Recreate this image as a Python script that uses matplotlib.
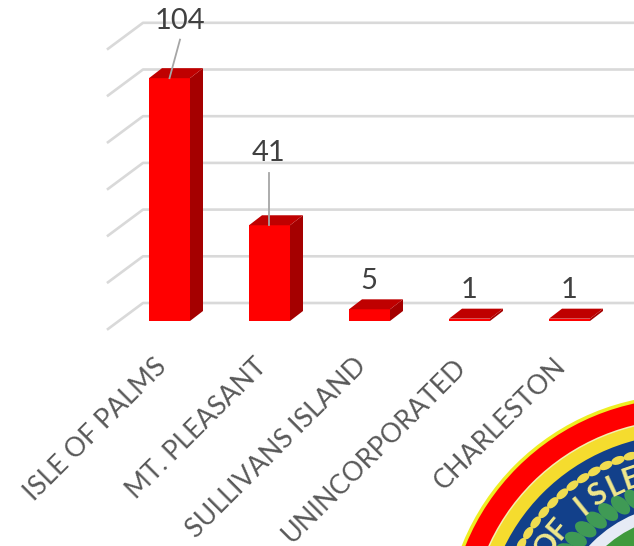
import numpy as np
import matplotlib
matplotlib.use('Agg')
import matplotlib.pyplot as plt
from matplotlib.patches import Polygon, Circle, Ellipse

plt.rcParams['font.family'] = ['Lato', 'DejaVu Sans']

# data
towns = ['ISLE OF PALMS', 'MT. PLEASANT', 'SULLIVANS ISLAND', 'UNINCORPORATED', 'CHARLESTON']
counts = [104, 41, 5, 1, 1]
grid_values = [0, 20, 40, 60, 80, 100, 120]
seal_letters = ['O', 'F', 'I', 'S', 'L', 'E']
seal_letter_angles = [147, 140, 128.8, 122, 115, 109]

W, H = 634, 546
px_x = 100.0    # pixels per category
px_y = 2.335    # pixels per count
x0, y0 = 169.5, 321.0

fig = plt.figure(figsize=(W / 100, H / 100), dpi=100)
ax = fig.add_axes([0, 0, 1, 1])
ax.set_xlim(-x0 / px_x, (W - x0) / px_x)
ax.set_ylim((y0 - H) / px_y, y0 / px_y)
ax.axis('off')

# depth of the fake 3d bars, in data units
bar_w = 0.41
dx, dy = 0.13, 10 / px_y

# back wall grid
wall_dy = 18 / px_y
wall_x = (143 - x0) / px_x
for v in grid_values:
    yy = v + wall_dy
    ax.plot([wall_x - 0.35, wall_x, 5], [yy - 26 / px_y, yy, yy], color='#d9d9d9', lw=1.9, zorder=1)

for i, c in enumerate(counts):
    l, r = i - bar_w / 2, i + bar_w / 2
    ax.add_patch(Polygon([[l, 0], [r, 0], [r, c], [l, c]], fc='#ff0000', ec='none', zorder=3))
    ax.add_patch(Polygon([[r, 0], [r + dx, dy], [r + dx, c + dy], [r, c]], fc='#a50000', ec='none', zorder=3))
    ax.add_patch(Polygon([[l, c], [r, c], [r + dx, c + dy], [l + dx, c + dy]], fc='#bf0000', ec='none', zorder=3))

# value labels, first two have leader lines
label_x = [0.105, 0.995, 1.995, 2.995, 3.995]
label_y = [128.3, 72, 17.2, 13.2, 13.2]
for i, c in enumerate(counts):
    ax.text(label_x[i], label_y[i], str(c), fontsize=21, color='#404040', ha='center', va='center', zorder=5)
ax.plot([0.105, 0], [120.5, 104], color='#a6a6a6', lw=1.3, zorder=4)
ax.plot([0.995, 0.995], [63.5, 41], color='#a6a6a6', lw=1.3, zorder=4)

# category labels
for i, t in enumerate(towns):
    ax.text(i - 0.16, -14, t, rotation=45, rotation_mode='anchor', ha='right', va='top',
            fontsize=19.3, color='#595959', zorder=5)

# seal in the corner, own axes in pixels so circles stay round
ax2 = fig.add_axes([0, 0, 1, 1])
ax2.set_xlim(0, W)
ax2.set_ylim(0, H)
ax2.axis('off')
ax2.patch.set_alpha(0)
sx, sy = 685, H - 635


def polar(r, ang):
    a = np.radians(ang)
    return sx + r * np.cos(a), sy + r * np.sin(a)


ring_radii = [240.5, 237, 216, 214.5, 201, 131, 119]
ring_colors = ['#eeee22', '#ff0000', '#f4efb0', '#f5dc2e', '#12408a', '#e6ebf5', '#3f9a3c']
for r, col in zip(ring_radii, ring_colors):
    ax2.add_patch(Circle((sx, sy), r, fc=col, ec='none'))

# bead ring
for ang in np.arange(91, 181, 4.0):
    ax2.add_patch(Ellipse(polar(187, ang), 8, 14, angle=ang, fc='#f0dc50', ec='none'))

# laurel leaves
for ang in np.arange(94, 181, 5.6):
    ax2.add_patch(Ellipse(polar(145, ang), 23, 14, angle=ang + 20, fc='#3f9a55', ec='none'))

# seal lettering on the arc
for ang, ch in zip(seal_letter_angles, seal_letters):
    x, y = polar(165, ang)
    ax2.text(x, y, ch, rotation=ang - 90, rotation_mode='anchor', ha='center', va='center',
             fontsize=22, color='#f1e88c', fontweight='bold')

fig.savefig('out.png', dpi=100)
